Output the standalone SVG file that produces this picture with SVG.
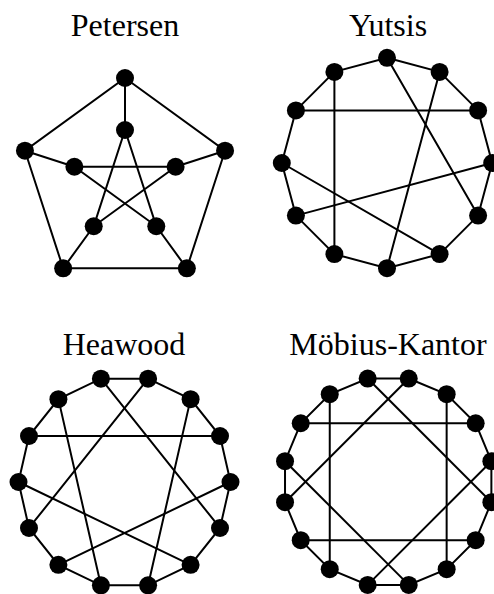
<svg xmlns="http://www.w3.org/2000/svg" width="494" height="594" viewBox="0 0 494 594">
<style>
.e{stroke:#000;stroke-width:2;fill:none;stroke-linecap:round}
.n{fill:#000}
.t{font-family:"Liberation Serif","Times New Roman",serif;font-size:32px;fill:#000;text-anchor:middle}
</style>
<rect width="494" height="594" fill="#fff"/>
<text class="t" x="125" y="36">Petersen</text>
<text class="t" x="388" y="36">Yutsis</text>
<text class="t" x="124" y="355">Heawood</text>
<text class="t" x="388" y="355">Möbius-Kantor</text>
<g id="connectors" class="e">
<!-- Petersen -->
<polygon points="125,78 225.05,150.7 186.84,268.3 63.16,268.3 24.95,150.7"/>
<line x1="125" y1="78" x2="125" y2="130"/>
<line x1="225.05" y1="150.7" x2="175.6" y2="166.76"/>
<line x1="186.84" y1="268.3" x2="156.27" y2="226.24"/>
<line x1="63.16" y1="268.3" x2="93.73" y2="226.24"/>
<line x1="24.95" y1="150.7" x2="74.4" y2="166.76"/>
<polygon points="125,130 156.27,226.24 74.4,166.76 175.6,166.76 93.73,226.24"/>
<!-- Yutsis -->
<polygon points="387,57.8 439.6,71.9 478.1,110.4 492.2,163 478.1,215.6 439.6,254.1 387,268.2 334.4,254.1 295.9,215.6 281.8,163 295.9,110.4 334.4,71.9"/>
<line x1="334.4" y1="71.9" x2="334.4" y2="254.1"/>
<line x1="295.9" y1="110.4" x2="478.1" y2="110.4"/>
<line x1="387" y1="57.8" x2="478.1" y2="215.6"/>
<line x1="439.6" y1="71.9" x2="387" y2="268.2"/>
<line x1="281.8" y1="163" x2="439.6" y2="254.1"/>
<line x1="295.9" y1="215.6" x2="492.2" y2="163"/>
<!-- Heawood -->
<polygon points="148.09,378.66 190.59,399.13 220.01,436.01 230.5,482 220.01,527.99 190.59,564.87 148.09,585.34 100.91,585.34 58.41,564.87 28.99,527.99 18.5,482 28.99,436.01 58.41,399.13 100.91,378.66"/>
<line x1="148.09" y1="378.66" x2="28.99" y2="527.99"/>
<line x1="190.59" y1="399.13" x2="148.09" y2="585.34"/>
<line x1="220.01" y1="436.01" x2="28.99" y2="436.01"/>
<line x1="230.5" y1="482" x2="58.41" y2="564.87"/>
<line x1="220.01" y1="527.99" x2="100.91" y2="378.66"/>
<line x1="190.59" y1="564.87" x2="18.5" y2="482"/>
<line x1="100.91" y1="585.34" x2="58.41" y2="399.13"/>
<!-- Mobius-Kantor -->
<polygon points="408.72,378.52 446.65,394.23 475.67,423.25 491.38,461.18 491.38,502.22 475.67,540.15 446.65,569.17 408.72,584.88 367.68,584.88 329.75,569.17 300.73,540.15 285.02,502.22 285.02,461.18 300.73,423.25 329.75,394.23 367.68,378.52"/>
<line x1="329.75" y1="394.23" x2="329.75" y2="569.17"/>
<line x1="446.65" y1="394.23" x2="446.65" y2="569.17"/>
<line x1="300.73" y1="423.25" x2="475.67" y2="423.25"/>
<line x1="300.73" y1="540.15" x2="475.67" y2="540.15"/>
<line x1="367.68" y1="378.52" x2="491.38" y2="502.22"/>
<line x1="408.72" y1="378.52" x2="285.02" y2="502.22"/>
<line x1="285.02" y1="461.18" x2="408.72" y2="584.88"/>
<line x1="491.38" y1="461.18" x2="367.68" y2="584.88"/>
</g>
<g id="petersen-nodes" class="n">
<g id="p-o0"><circle cx="125" cy="78" r="9"/></g>
<g id="p-o1"><circle cx="225.05" cy="150.7" r="9"/></g>
<g id="p-o2"><circle cx="186.84" cy="268.3" r="9"/></g>
<g id="p-o3"><circle cx="63.16" cy="268.3" r="9"/></g>
<g id="p-o4"><circle cx="24.95" cy="150.7" r="9"/></g>
<g id="p-i0"><circle cx="125" cy="130" r="9"/></g>
<g id="p-i1"><circle cx="175.6" cy="166.76" r="9"/></g>
<g id="p-i2"><circle cx="156.27" cy="226.24" r="9"/></g>
<g id="p-i3"><circle cx="93.73" cy="226.24" r="9"/></g>
<g id="p-i4"><circle cx="74.4" cy="166.76" r="9"/></g>
</g>
<g id="yutsis-nodes" class="n">
<g id="y0"><circle cx="387" cy="57.8" r="9"/></g>
<g id="y1"><circle cx="439.6" cy="71.9" r="9"/></g>
<g id="y2"><circle cx="478.1" cy="110.4" r="9"/></g>
<g id="y3"><circle cx="492.2" cy="163" r="9"/></g>
<g id="y4"><circle cx="478.1" cy="215.6" r="9"/></g>
<g id="y5"><circle cx="439.6" cy="254.1" r="9"/></g>
<g id="y6"><circle cx="387" cy="268.2" r="9"/></g>
<g id="y7"><circle cx="334.4" cy="254.1" r="9"/></g>
<g id="y8"><circle cx="295.9" cy="215.6" r="9"/></g>
<g id="y9"><circle cx="281.8" cy="163" r="9"/></g>
<g id="y10"><circle cx="295.9" cy="110.4" r="9"/></g>
<g id="y11"><circle cx="334.4" cy="71.9" r="9"/></g>
</g>
<g id="heawood-nodes" class="n">
<g id="h0"><circle cx="148.09" cy="378.66" r="9"/></g>
<g id="h1"><circle cx="190.59" cy="399.13" r="9"/></g>
<g id="h2"><circle cx="220.01" cy="436.01" r="9"/></g>
<g id="h3"><circle cx="230.5" cy="482" r="9"/></g>
<g id="h4"><circle cx="220.01" cy="527.99" r="9"/></g>
<g id="h5"><circle cx="190.59" cy="564.87" r="9"/></g>
<g id="h6"><circle cx="148.09" cy="585.34" r="9"/></g>
<g id="h7"><circle cx="100.91" cy="585.34" r="9"/></g>
<g id="h8"><circle cx="58.41" cy="564.87" r="9"/></g>
<g id="h9"><circle cx="28.99" cy="527.99" r="9"/></g>
<g id="h10"><circle cx="18.5" cy="482" r="9"/></g>
<g id="h11"><circle cx="28.99" cy="436.01" r="9"/></g>
<g id="h12"><circle cx="58.41" cy="399.13" r="9"/></g>
<g id="h13"><circle cx="100.91" cy="378.66" r="9"/></g>
</g>
<g id="mobius-kantor-nodes" class="n">
<g id="m0"><circle cx="408.72" cy="378.52" r="9"/></g>
<g id="m1"><circle cx="446.65" cy="394.23" r="9"/></g>
<g id="m2"><circle cx="475.67" cy="423.25" r="9"/></g>
<g id="m3"><circle cx="491.38" cy="461.18" r="9"/></g>
<g id="m4"><circle cx="491.38" cy="502.22" r="9"/></g>
<g id="m5"><circle cx="475.67" cy="540.15" r="9"/></g>
<g id="m6"><circle cx="446.65" cy="569.17" r="9"/></g>
<g id="m7"><circle cx="408.72" cy="584.88" r="9"/></g>
<g id="m8"><circle cx="367.68" cy="584.88" r="9"/></g>
<g id="m9"><circle cx="329.75" cy="569.17" r="9"/></g>
<g id="m10"><circle cx="300.73" cy="540.15" r="9"/></g>
<g id="m11"><circle cx="285.02" cy="502.22" r="9"/></g>
<g id="m12"><circle cx="285.02" cy="461.18" r="9"/></g>
<g id="m13"><circle cx="300.73" cy="423.25" r="9"/></g>
<g id="m14"><circle cx="329.75" cy="394.23" r="9"/></g>
<g id="m15"><circle cx="367.68" cy="378.52" r="9"/></g>
</g>
</svg>
